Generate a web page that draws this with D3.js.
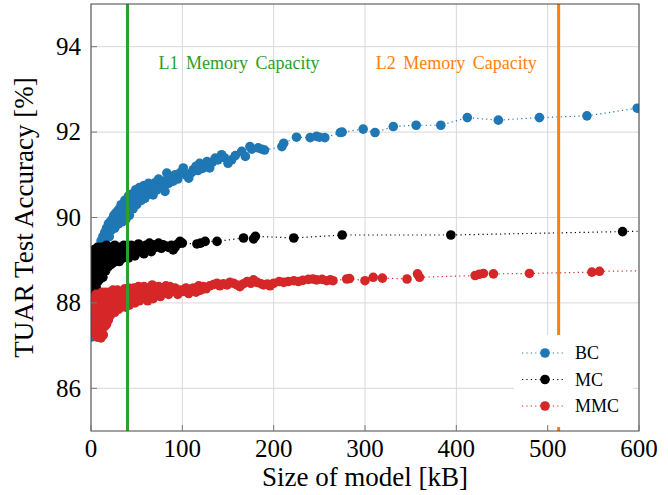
<!DOCTYPE html>
<html>
<head>
<meta charset="utf-8">
<script src="https://cdn.jsdelivr.net/npm/d3@7/dist/d3.min.js"></script>
<style>
  body { margin: 0; background: #fff; }
  svg text { font-family: "Liberation Serif", "DejaVu Serif", "Times New Roman", serif; }
</style>
</head>
<body>
<svg id="chart" width="668" height="495"></svg>
<script>
// size of model [kB], test accuracy [%]
let bcData = [[0.5,87.2],[1.2,87.5],[1.5,87.25],[2,87.45],[2.5,87.7],[2.8,87.95],[3.2,88.2],[3.6,87.4],[4,88.45],[4.5,88.1],[5,88.7],[5.5,88.4],[6,88.9],[6.5,88.6],[7,89.05],[7.5,88.85],[8,89.15],[9,89.0],[9.5,89.3],[10.5,89.2],[11,89.45],[12,89.3],[13,89.55],[14,89.4],[15,89.65],[16,89.5],[17,89.75],[18,89.6],[19,89.85],[20,89.55],[21,89.9],[22,89.7],[23,89.95],[24,89.8],[25,90.05],[26,89.75],[27,90.1],[28,89.9],[29,90.15],[30,89.85],[31,90.2],[32,90.0],[33,90.3],[34,89.9],[35,90.25],[36,90.1],[37,90.4],[38,89.95],[39,90.3],[40,90.15],[41,90.5],[42,90.05],[43,90.35],[44,90.25],[45,90.55],[46,90.2],[47,90.45],[48,90.35],[49,90.65],[50,90.3],[52,90.5],[53,90.7],[55,90.4],[56,90.6],[58,90.75],[59,90.45],[61,90.65],[63,90.8],[64,90.55],[66,90.7],[68,90.53],[70,90.81],[72,90.65],[74,90.9],[77,90.73],[79,90.85],[81,90.61],[83,91.04],[85,90.8],[88,90.95],[90,90.85],[92,91.0],[95,90.9],[98,91.05],[101,91.16],[104,91.0],[107,90.92],[110,91.05],[112,91.12],[115,91.2],[117,91.1],[119,91.27],[122,91.15],[125,91.25],[127,91.31],[130,91.16],[133,91.3],[136,91.39],[139,91.35],[143,91.47],[146,91.4],[150,91.27],[154,91.35],[158,91.45],[165,91.55],[169,91.43],[174,91.66],[176,91.6],[183,91.63],[187,91.6],[190,91.58],[209,91.66],[211,91.74],[225,91.88],[240,91.87],[247,91.9],[250,91.88],[256,91.87],[273,91.99],[275,92.0],[298,92.07],[311,91.99],[331,92.13],[356,92.16],[383,92.16],[412,92.34],[446,92.28],[491,92.34],[543,92.38],[598,92.56]];

let mcData = [[1.5,88.05],[2,88.3],[2.3,88.6],[2.6,88.85],[3,89.1],[3.3,88.2],[3.6,89.25],[4,88.45],[4.3,88.75],[4.6,89.0],[5,88.1],[5.3,89.2],[5.7,88.35],[6,88.6],[6.5,88.9],[7,89.3],[7.5,88.5],[8,89.1],[8.5,88.75],[9,89.25],[9.5,88.55],[10,89.0],[11,89.3],[11.5,88.7],[12,89.15],[13,88.6],[13.5,89.3],[14,88.9],[15,89.2],[16,88.75],[17,89.35],[18,89.05],[19,88.85],[20,89.25],[21,89.1],[22,88.9],[23,89.3],[24,89.15],[25,88.95],[26,89.35],[27,89.2],[28,89.0],[29,89.3],[30,89.1],[31,88.97],[32,89.3],[34,89.2],[35,89.05],[36,89.35],[38,89.15],[39,89.3],[41,89.05],[42,89.25],[44,89.35],[45,89.15],[47,89.3],[48,89.1],[50,89.25],[52,89.38],[54,89.2],[56,89.3],[58,89.15],[60,89.35],[62,89.25],[64,89.4],[66,89.2],[68,89.36],[71,89.3],[74,89.4],[77,89.28],[79,89.36],[82,89.33],[85,89.3],[88,89.35],[90,89.24],[92,89.3],[95,89.38],[97.5,89.44],[100,89.4],[116,89.38],[120,89.4],[125,89.44],[138,89.44],[167,89.52],[178,89.5],[180,89.56],[222,89.52],[275,89.59],[394,89.59],[582,89.67],[640,89.7]];

let mmcData = [[2.5,88.1],[3,87.8],[3.5,87.5],[4,88.0],[4.5,87.3],[5,87.7],[5.5,88.2],[6,87.4],[6.5,87.9],[7,87.2],[7.5,88.1],[8,87.55],[8.5,87.2],[9,87.85],[9.5,88.2],[10,87.35],[10.5,88.0],[11,87.18],[11.5,87.7],[12,88.25],[12.5,87.4],[13,87.9],[13.5,87.25],[14,88.15],[14.5,87.6],[15,87.45],[15.5,88.0],[16,88.25],[16.5,87.75],[17,87.5],[18,88.1],[18.5,87.85],[19,87.6],[20,88.25],[20.5,87.95],[21,87.7],[22,88.15],[23,87.85],[24,88.3],[25,88.0],[26,87.78],[27,88.2],[28,87.95],[29,88.3],[30,87.85],[31,88.1],[32,88.25],[33,87.9],[35,88.2],[36,88.0],[37,88.33],[38,87.9],[40,88.15],[41,88.35],[42,87.95],[44,88.25],[45,88.05],[47,88.35],[48,88.0],[50,88.2],[52,88.38],[53,88.05],[55,88.25],[57,88.1],[58,88.38],[60,88.2],[62,88.05],[63,88.35],[65,88.15],[67,88.42],[68,88.1],[70,88.3],[72,88.2],[74,88.38],[76,88.15],[78,88.33],[80,88.25],[82,88.4],[85,88.2],[86.5,88.38],[89,88.28],[92,88.35],[95,88.2],[98,88.3],[101,88.27],[104,88.35],[107,88.22],[110,88.32],[112,88.35],[115,88.25],[118,88.4],[120,88.3],[123,88.38],[126,88.33],[130,88.4],[134,88.43],[138,88.46],[141,88.4],[145,88.45],[149,88.42],[152,88.48],[156,88.46],[160,88.42],[163,88.38],[167,88.45],[171,88.5],[175,88.46],[178,88.54],[182,88.48],[186,88.45],[189,88.42],[193,88.44],[196,88.4],[200,88.46],[206,88.5],[211,88.48],[216,88.5],[222,88.52],[227,88.5],[232,88.53],[238,88.55],[243,88.56],[247,88.54],[253,88.55],[258,88.52],[262,88.54],[265,88.52],[280,88.56],[283,88.57],[300,88.52],[309,88.6],[319,88.58],[346,88.56],[357.5,88.68],[359.7,88.6],[420.6,88.64],[425,88.67],[429.7,88.69],[440.6,88.68],[480,88.69],[548.4,88.72],[556.7,88.74],[640,88.76]];

let seriesNames = ["BC", "MC", "MMC"];
let seriesColors = ["#1f77b4", "#000000", "#d62728"];
let xTicks = [0, 100, 200, 300, 400, 500, 600];
let yTicks = [86, 88, 90, 92, 94];
let memLines = [{name: "L1 Memory Capacity", x: 40, color: "#2ca02c", labelX: 162},
                {name: "L2 Memory Capacity", x: 512, color: "#ff7f0e", labelX: 400}];

let serif = '"Liberation Serif", "DejaVu Serif", "Times New Roman", serif';
let margin = {top: 4, right: 29, bottom: 64, left: 91};
let svgWidth = 668, svgHeight = 495;
let width = svgWidth - margin.left - margin.right;
let height = svgHeight - margin.top - margin.bottom;

let svg = d3.select('#chart');
let g = svg.append('g').attr('transform', 'translate(' + margin.left + ',' + margin.top + ')')
           .attr('font-family', serif);

let x = d3.scaleLinear().domain([0, 600]).range([0, width]);
let y = d3.scaleLinear().domain([85, 95]).range([height, 0]);

svg.append('defs').append('clipPath').attr('id', 'clip')
   .append('rect').attr('width', width).attr('height', height);

// grid
g.append('g').selectAll('line').data(xTicks).enter().append('line')
  .attr('x1', d => x(d)).attr('x2', d => x(d)).attr('y1', 0).attr('y2', height)
  .attr('stroke', '#d8d8d8').attr('stroke-width', 1);
g.append('g').selectAll('line').data(yTicks).enter().append('line')
  .attr('y1', d => y(d)).attr('y2', d => y(d)).attr('x1', 0).attr('x2', width)
  .attr('stroke', '#d8d8d8').attr('stroke-width', 1);

// series
let plot = g.append('g').attr('clip-path', 'url(#clip)');
let allData = [bcData, mcData, mmcData];
let line = d3.line().x(d => x(d[0])).y(d => y(d[1]));
allData.forEach(function(data, i) {
  plot.append('path').datum(data)
    .attr('d', line)
    .attr('fill', 'none')
    .attr('stroke', seriesColors[i])
    .attr('stroke-width', 1.2)
    .attr('stroke-dasharray', '1.2,3.2');
  plot.append('g').selectAll('circle').data(data).enter().append('circle')
    .attr('cx', d => x(d[0])).attr('cy', d => y(d[1])).attr('r', 4.8)
    .attr('fill', seriesColors[i]);
});

// memory capacity lines
memLines.forEach(function(m) {
  g.append('line')
    .attr('x1', x(m.x)).attr('x2', x(m.x)).attr('y1', 0).attr('y2', height)
    .attr('stroke', m.color).attr('stroke-width', 3);
  g.append('text')
    .attr('x', x(m.labelX)).attr('y', 65)
    .attr('text-anchor', 'middle')
    .attr('font-size', 18)
    .attr('word-spacing', 3)
    .attr('fill', m.color)
    .text(m.name);
});

// legend
let legend = g.append('g').attr('transform', 'translate(' + (width - 125) + ',' + (height - 96) + ')');
legend.append('rect').attr('x', 0).attr('y', 0).attr('width', 119).attr('height', 92).attr('fill', '#fff');
seriesNames.forEach(function(name, i) {
  let ly = 18 + i * 26.5;
  legend.append('line').attr('x1', 8).attr('x2', 51).attr('y1', ly).attr('y2', ly)
    .attr('stroke', seriesColors[i]).attr('stroke-width', 1.2).attr('stroke-dasharray', '1.2,3.2');
  legend.append('circle').attr('cx', 31).attr('cy', ly).attr('r', 4.8).attr('fill', seriesColors[i]);
  legend.append('text').attr('x', 61).attr('y', ly).attr('dy', '0.35em')
    .attr('font-size', 18).text(name);
});

// axes frame and ticks
g.append('rect').attr('width', width).attr('height', height)
  .attr('fill', 'none').attr('stroke', '#444').attr('stroke-width', 1);
g.append('g').selectAll('line').data(xTicks).enter().append('line')
  .attr('x1', d => x(d)).attr('x2', d => x(d)).attr('y1', height).attr('y2', height - 6)
  .attr('stroke', '#777');
g.append('g').selectAll('line').data(yTicks).enter().append('line')
  .attr('y1', d => y(d)).attr('y2', d => y(d)).attr('x1', 0).attr('x2', 6)
  .attr('stroke', '#777');

g.append('g').selectAll('text').data(xTicks).enter().append('text')
  .attr('x', d => x(d)).attr('y', height + 26)
  .attr('text-anchor', 'middle').attr('font-size', 25)
  .text(d => d);
g.append('g').selectAll('text').data(yTicks).enter().append('text')
  .attr('x', -10).attr('y', d => y(d)).attr('dy', '0.33em')
  .attr('text-anchor', 'end').attr('font-size', 25)
  .text(d => d);

g.append('text')
  .attr('x', width / 2).attr('y', height + 55)
  .attr('text-anchor', 'middle').attr('font-size', 27)
  .text('Size of model [kB]');
g.append('text')
  .attr('transform', 'translate(' + (-58) + ',' + (height / 2) + ') rotate(-90)')
  .attr('text-anchor', 'middle').attr('font-size', 27)
  .text('TUAR Test Accuracy [%]');
</script>
</body>
</html>
